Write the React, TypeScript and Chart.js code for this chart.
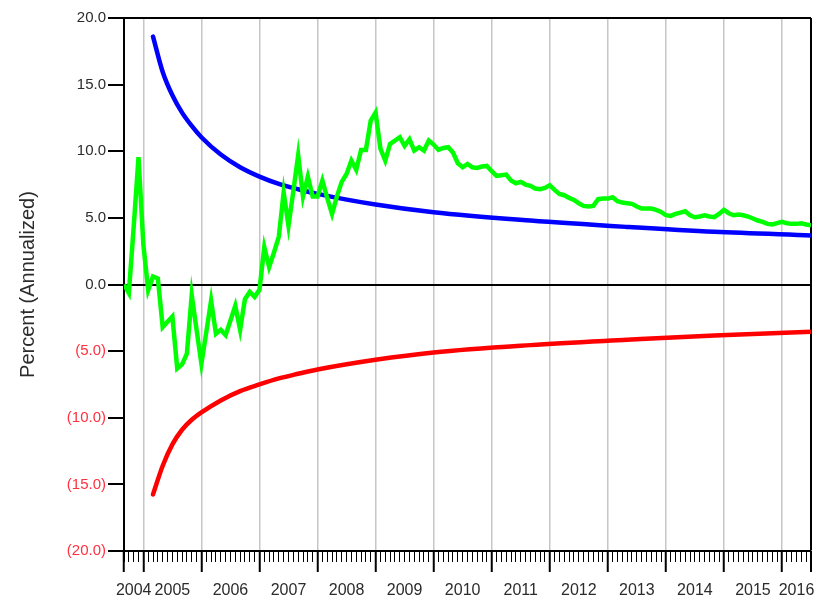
import { useEffect, useRef } from 'react';
import { Chart, registerables } from 'chart.js';

Chart.register(...registerables);

// Monthly observations begin in September 2004 (month index 8 counted from Jan 2004)
const FIRST_MONTH_INDEX = 8;

// Annualized return, one value per month (Sep 2004 .. Jul 2016)
const annualizedReturn = [
  0.0, -0.65, 4.3, 9.55, 3.0, -0.43, 0.6, 0.45, -3.2, -2.8, -2.4, -6.3, -6.0, -5.2, -0.8,
  -3.4, -5.95, -3.6, -1.2, -3.7, -3.4, -3.8, -2.7, -1.6, -3.4, -1.1, -0.55, -0.93, -0.4,
  2.8, 1.3, 2.4, 3.6, 6.9, 4.4, 7.0, 9.7, 6.6, 8.1, 6.6, 6.6, 7.8, 6.5, 5.3, 6.6, 7.7,
  8.3, 9.3, 8.6, 10.1, 10.1, 12.3, 12.9, 10.2, 9.3, 10.55, 10.8, 11.05, 10.4, 10.9, 10.05,
  10.3, 10.05, 10.8, 10.5,
  10.1, 10.25, 10.3, 9.9, 9.1, 8.8, 9.05, 8.8, 8.75, 8.85, 8.9, 8.5, 8.15, 8.2, 8.25, 7.8,
  7.6, 7.7, 7.5, 7.4, 7.2, 7.15, 7.25, 7.45, 7.1, 6.8, 6.7, 6.5, 6.35, 6.1, 5.9, 5.85, 5.9,
  6.4, 6.45, 6.45, 6.55, 6.25, 6.15, 6.1, 6.05, 5.85, 5.7, 5.7, 5.7, 5.6, 5.45, 5.2, 5.15,
  5.3, 5.4, 5.5, 5.2, 5.05, 5.1, 5.2, 5.1, 5.05, 5.3, 5.6, 5.35, 5.2, 5.25, 5.2, 5.1, 4.95,
  4.8, 4.7, 4.55, 4.5, 4.6, 4.7, 4.6, 4.55, 4.55, 4.6, 4.5, 4.45,
];

// Confidence band, sampled at months after the first observation
const bandMonths = [6, 8, 10, 12, 14, 16, 20, 24, 28, 32, 36, 40, 52, 64, 84, 104, 122, 142];
const upperBand = [18.6, 15.95, 14.2, 12.9, 11.9, 11.05, 9.75, 8.8, 8.1, 7.55, 7.15, 6.8, 6.0, 5.42, 4.8, 4.32, 3.95, 3.68];
const lowerBand = [-15.75, -13.6, -12.0, -10.9, -10.15, -9.6, -8.7, -8.0, -7.5, -7.05, -6.7, -6.38, -5.65, -5.1, -4.55, -4.15, -3.82, -3.55];

const yearLabels = ['2004', '2005', '2006', '2007', '2008', '2009', '2010', '2011', '2012', '2013', '2014', '2015', '2016'];
const yTickValues = [-20, -15, -10, -5, 0, 5, 10, 15, 20];

const FONT = "'Liberation Sans', Arial, sans-serif";

const xMin = FIRST_MONTH_INDEX;
const xMax = FIRST_MONTH_INDEX + annualizedReturn.length - 1;

// year boundaries (plus both ends of the axis) and the centre of each year's span
const boundaryTicks: number[] = [xMin];
const labelTicks = new Map<number, string>();
yearLabels.forEach((label, i) => {
  const start = Math.max(i * 12, xMin);
  const end = Math.min(i * 12 + 12, xMax);
  if (i * 12 > xMin && i * 12 < xMax) boundaryTicks.push(i * 12);
  labelTicks.set((start + end) / 2, label);
});
boundaryTicks.push(xMax);
const boundarySet = new Set(boundaryTicks);

const monthTicks: number[] = [];
for (let m = xMin; m <= xMax; m++) monthTicks.push(m);

const returnPoints = annualizedReturn.map((v, i) => ({ x: xMin + i, y: v }));
const upperPoints = bandMonths.map((m, i) => ({ x: xMin + m, y: upperBand[i] }));
const lowerPoints = bandMonths.map((m, i) => ({ x: xMin + m, y: lowerBand[i] }));

export default function App() {
  const canvasRef = useRef<HTMLCanvasElement>(null);

  useEffect(() => {
    if (!canvasRef.current) return;
    const chart = new Chart(canvasRef.current, {
      type: 'line',
      data: {
        datasets: [
          {
            data: returnPoints,
            borderColor: '#00ff00',
            borderWidth: 4.5,
            pointRadius: 0,
            tension: 0,
            order: 0,
          },
          {
            data: upperPoints,
            borderColor: '#0000ff',
            borderWidth: 4.5,
            pointRadius: 0,
            cubicInterpolationMode: 'monotone',
            borderCapStyle: 'round',
            order: 1,
          },
          {
            data: lowerPoints,
            borderColor: '#ff0000',
            borderWidth: 4.5,
            pointRadius: 0,
            cubicInterpolationMode: 'monotone',
            borderCapStyle: 'round',
            order: 1,
          },
        ],
      },
      options: {
        responsive: false,
        devicePixelRatio: 1,
        animation: false,
        events: [],
        layout: { padding: { top: 18, right: 15, left: 0, bottom: 0 } },
        plugins: { legend: { display: false }, tooltip: { enabled: false } },
        scales: {
          x: {
            type: 'linear',
            position: 'bottom',
            weight: 1,
            min: xMin,
            max: xMax,
            afterBuildTicks: (scale: any) => {
              const values = [...boundaryTicks, ...labelTicks.keys()].sort((a, b) => a - b);
              scale.ticks = values.map((v) => ({ value: v }));
            },
            afterFit: (scale: any) => {
              scale.height = 51;
            },
            ticks: {
              autoSkip: false,
              maxRotation: 0,
              minRotation: 0,
              padding: 9,
              color: '#2b2b2b',
              font: { family: FONT, size: 16 },
              callback: (value: any) => labelTicks.get(Number(value)) ?? '',
            },
            grid: {
              drawOnChartArea: true,
              tickLength: 21,
              tickWidth: 2,
              color: (ctx: any) => {
                const v = ctx.tick?.value;
                if (v === xMax) return '#000000';
                if (v === xMin || !boundarySet.has(v)) return 'rgba(0,0,0,0)';
                return '#c6c6c6';
              },
              lineWidth: (ctx: any) => (ctx.tick?.value === xMax ? 2 : 1.5),
              tickColor: (ctx: any) => (boundarySet.has(ctx.tick?.value) ? '#000000' : 'rgba(0,0,0,0)'),
            },
            border: { display: true, color: '#000000', width: 2 },
          },
          xMonths: {
            type: 'linear',
            position: 'bottom',
            weight: 0,
            min: xMin,
            max: xMax,
            afterBuildTicks: (scale: any) => {
              scale.ticks = monthTicks.map((v) => ({ value: v }));
            },
            afterFit: (scale: any) => {
              scale.height = 0;
            },
            ticks: { display: false },
            grid: {
              drawOnChartArea: false,
              tickLength: 11,
              tickWidth: 1,
              tickColor: '#000000',
              color: '#000000',
            },
            border: { display: false },
          },
          y: {
            type: 'linear',
            min: -20,
            max: 20,
            afterBuildTicks: (scale: any) => {
              scale.ticks = yTickValues.map((v) => ({ value: v }));
            },
            afterFit: (scale: any) => {
              scale.width = 124;
            },
            ticks: {
              padding: 2,
              font: { family: FONT, size: 15 },
              color: (ctx: any) => (ctx.tick?.value < 0 ? '#ff3040' : '#2b2b2b'),
              callback: (value: any) => {
                const v = Number(value);
                return v < 0 ? `(${Math.abs(v).toFixed(1)})` : v.toFixed(1);
              },
            },
            grid: {
              drawOnChartArea: true,
              tickLength: 16,
              tickWidth: 2,
              tickColor: '#000000',
              lineWidth: 2,
              color: (ctx: any) => {
                const v = ctx.tick?.value;
                return v === 0 || v === 20 ? '#000000' : 'rgba(0,0,0,0)';
              },
            },
            border: { display: true, color: '#000000', width: 2 },
            title: {
              display: true,
              text: 'Percent (Annualized)',
              color: '#2b2b2b',
              font: { family: FONT, size: 20 },
              padding: { top: 16, bottom: 0 },
            },
          },
        },
      },
    } as any);
    return () => chart.destroy();
  }, []);

  return (
    <div style={{ position: 'fixed', left: 0, top: 0, width: 826, height: 602, background: '#ffffff' }}>
      <canvas ref={canvasRef} width={826} height={602} style={{ display: 'block' }} />
    </div>
  );
}
